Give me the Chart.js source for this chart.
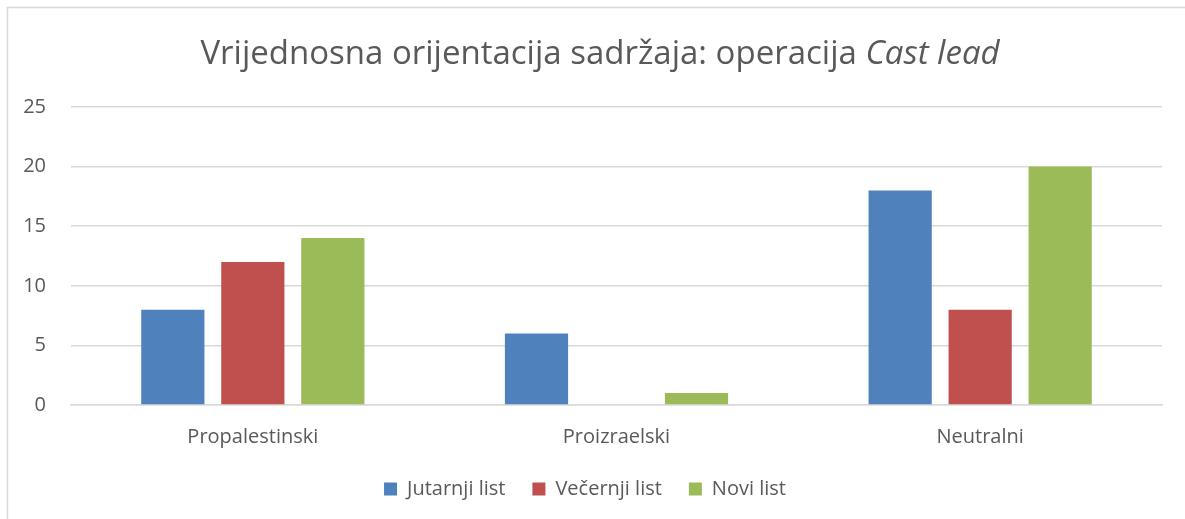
<!DOCTYPE html>
<html>
<head>
<meta charset="utf-8">
<script src="https://cdn.jsdelivr.net/npm/chart.js@4"></script>
<style>
  html, body { margin: 0; padding: 0; background: #fff; }
  #wrap { position: relative; width: 1185px; height: 519px; }
</style>
</head>
<body>
<div id="wrap"><canvas id="c" width="1185" height="519"></canvas></div>
<script>
var categories = ['Propalestinski', 'Proizraelski', 'Neutralni'];
var seriesNames = ['Jutarnji list', 'Večernji list', 'Novi list'];
var jutarnji = [8, 6, 18];
var vecernji = [12, 0, 8];
var novi = [14, 1, 20];
var yTicks = [0, 5, 10, 15, 20, 25];
var colors = ['#4F81BD', '#C0504D', '#9BBB59'];

var FONT = '"Open Sans", sans-serif';
var TXT = '#595959';
var TITLE_SIZE = 33;

// title with italic part + outer frame
var titlePlugin = {
  id: 'titleFrame',
  beforeDraw: function (chart) {
    var ctx = chart.ctx;
    ctx.save();
    ctx.strokeStyle = '#d9d9d9';
    ctx.lineWidth = 1.5;
    ctx.strokeRect(7.5, 7.5, 1200, 520);
    ctx.restore();
  },
  afterDraw: function (chart) {
    var ctx = chart.ctx;
    var a = 'Vrijednosna orijentacija sadržaja: operacija ';
    var b = 'Cast lead';
    ctx.save();
    ctx.fillStyle = TXT;
    ctx.textBaseline = 'alphabetic';
    ctx.font = TITLE_SIZE + 'px ' + FONT;
    var wa = ctx.measureText(a).width;
    ctx.font = 'italic ' + TITLE_SIZE + 'px ' + FONT;
    var wb = ctx.measureText(b).width;
    var x = 600 - (wa + wb) / 2;
    var y = 64;
    ctx.font = TITLE_SIZE + 'px ' + FONT;
    ctx.fillText(a, x, y);
    ctx.font = 'italic ' + TITLE_SIZE + 'px ' + FONT;
    ctx.fillText(b, x + wa, y);
    ctx.restore();
  }
};

var sets = [jutarnji, vecernji, novi].map(function (d, i) {
  return {
    label: seriesNames[i],
    data: d,
    backgroundColor: colors[i],
    borderWidth: 0,
    categoryPercentage: 0.66,
    barPercentage: 0.79
  };
});

new Chart(document.getElementById('c'), {
  type: 'bar',
  data: { labels: categories, datasets: sets },
  options: {
    responsive: false,
    animation: false,
    layout: { padding: { left: 8, right: 23, top: 107, bottom: 10 } },
    plugins: {
      title: { display: false },
      tooltip: { enabled: false },
      legend: {
        position: 'bottom',
        labels: {
          color: TXT,
          font: { family: FONT, size: 20 },
          boxWidth: 13,
          boxHeight: 13,
          padding: 27
        }
      }
    },
    scales: {
      x: {
        afterFit: function (s) { s.height = 47; },
        grid: { display: false, drawTicks: false },
        border: { color: '#d9d9d9', width: 1.5 },
        ticks: { color: TXT, font: { family: FONT, size: 20 }, padding: 20 }
      },
      y: {
        min: 0,
        max: 25,
        afterFit: function (s) { s.width = 63; },
        afterBuildTicks: function (s) {
          s.ticks = yTicks.map(function (v) { return { value: v }; });
        },
        grid: { color: '#d9d9d9', lineWidth: 1.5, drawTicks: false },
        border: { display: false },
        ticks: { color: TXT, font: { family: FONT, size: 20 }, padding: 25 }
      }
    }
  },
  plugins: [titlePlugin]
});
</script>
</body>
</html>
